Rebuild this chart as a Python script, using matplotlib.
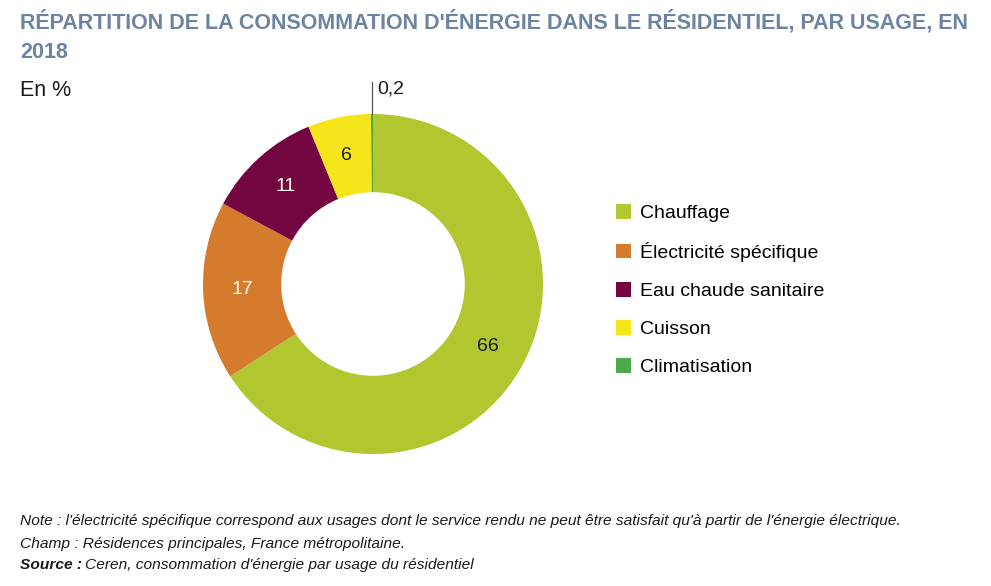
import matplotlib.pyplot as plt
from matplotlib.patches import Patch
import numpy as np

usages = ["Chauffage", "Électricité spécifique", "Eau chaude sanitaire", "Cuisson", "Climatisation"]
parts = [66, 17, 11, 6, 0.2]
part_labels = ["66", "17", "11", "6", "0,2"]
colors = ["#b1c62f", "#d47b2e", "#730641", "#f5e51b", "#4ea94c"]
label_colors = ["#1a1a1a", "white", "white", "#1a1a1a", "#1a1a1a"]

title_color = "#6c84a1"
plt.rcParams["font.family"] = ["Liberation Sans", "DejaVu Sans"]

W, H = 991, 586
fig = plt.figure(figsize=(W / 100, H / 100), dpi=100)

# donut: centre (373, 284) px, outer radius 170 px
cx, cy, r = 373, 284, 170
ax = fig.add_axes([(cx - r) / W, (H - cy - r) / H, 2 * r / W, 2 * r / H])
wedges, _ = ax.pie(parts, colors=colors, startangle=90, counterclock=False,
                   radius=1, wedgeprops=dict(width=0.46, edgecolor="none"))
ax.set_xlim(-1, 1)
ax.set_ylim(-1, 1)
ax.set_aspect("equal")
ax.axis("off")

for w, lab, col, val in zip(wedges, part_labels, label_colors, parts):
    mid = np.deg2rad((w.theta1 + w.theta2) / 2)
    if val < 1:
        # tiny slice: leader line above the ring
        x = np.cos(mid)
        ax.plot([x, x], [1.0, 1.19], color="#555555", lw=0.9, clip_on=False)
        ax.text(x + 0.03, 1.145, lab, ha="left", va="center", fontsize=14, color="#1a1a1a")
        continue
    rr = 0.77
    ax.text(rr * np.cos(mid), rr * np.sin(mid), lab, ha="center", va="center",
            fontsize=14, color=col)

handles = [Patch(facecolor=c, edgecolor="none") for c in colors]
fig.legend(handles, usages, loc="upper left", bbox_to_anchor=(608 / W, 1 - 196 / H),
           frameon=False, fontsize=14, handlelength=0.8, handleheight=0.8,
           handletextpad=0.45, labelspacing=1.02, borderaxespad=0)

fig.text(20 / W, 1 - 22 / H, "RÉPARTITION DE LA CONSOMMATION D'ÉNERGIE DANS LE RÉSIDENTIEL, PAR USAGE, EN",
         fontsize=15.5, fontweight="bold", color=title_color, va="center", ha="left")
fig.text(20 / W, 1 - 52 / H, "2018", fontsize=15.5, fontweight="bold", color=title_color,
         va="center", ha="left")
fig.text(20 / W, 1 - 90 / H, "En %", fontsize=15.5, color="#1a1a1a", va="center", ha="left")

foot = 11.15
fig.text(20 / W, 1 - 521 / H,
         "Note : l'électricité spécifique correspond aux usages dont le service rendu ne peut être satisfait qu'à partir de l'énergie électrique.",
         fontsize=foot, style="italic", color="#1a1a1a", va="center", ha="left")
fig.text(20 / W, 1 - 544 / H, "Champ : Résidences principales, France métropolitaine.",
         fontsize=foot, style="italic", color="#1a1a1a", va="center", ha="left")
src = fig.text(20 / W, 1 - 565 / H, "Source :", fontsize=foot, style="italic", fontweight="bold",
               color="#1a1a1a", va="center", ha="left")
fig.canvas.draw()
bb = src.get_window_extent()
fig.text((bb.x1 + 3) / W, 1 - 565 / H, "Ceren, consommation d'énergie par usage du résidentiel",
         fontsize=foot, style="italic", color="#1a1a1a", va="center", ha="left")

fig.savefig("out.png", dpi=100)
